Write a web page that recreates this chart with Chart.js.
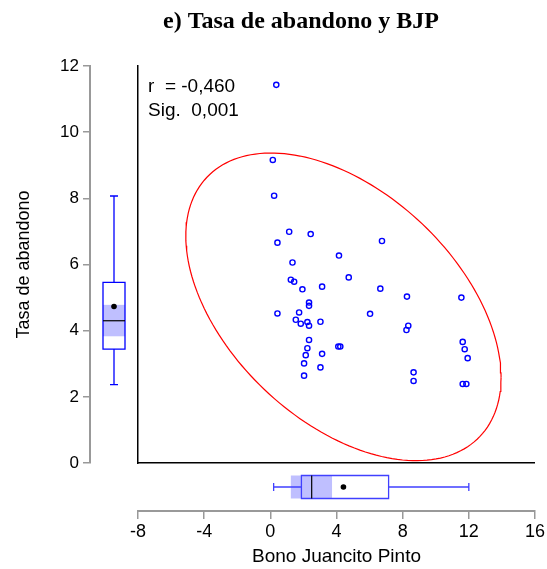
<!DOCTYPE html>
<html>
<head>
<meta charset="utf-8">
<script src="https://cdn.jsdelivr.net/npm/chart.js@4.4.0/dist/chart.umd.min.js"></script>
<style>
  body { margin: 0; background: #fff; }
</style>
</head>
<body>
<canvas id="scatter-chart" width="547" height="569"></canvas>
<script>
// Bono Juancito Pinto (x) vs Tasa de abandono (y)
var bjp = [0.36, 0.15, 0.23, 1.14, 2.44, 0.43, 6.75, 4.15, 1.34, 4.74, 1.24, 1.44, 3.13, 1.94, 6.65,
           8.26, 11.55, 2.34, 2.34, 0.43, 1.74, 6.03, 1.54, 1.84, 2.24, 2.34, 3.03, 8.34, 8.23, 2.34,
           2.24, 3.13, 4.11, 4.23, 2.14, 2.04, 3.03, 2.04, 11.63, 11.75, 11.93, 8.66, 8.66, 11.63, 11.85];
var abandono = [11.43, 9.16, 8.08, 6.99, 6.92, 6.66, 6.71, 6.27, 6.06, 5.61, 5.54, 5.48, 5.33, 5.25, 5.27,
                5.03, 5.00, 4.85, 4.75, 4.52, 4.55, 4.51, 4.33, 4.21, 4.26, 4.15, 4.27, 4.15, 4.02, 3.72,
                3.47, 3.30, 3.52, 3.52, 3.26, 3.01, 2.89, 2.64, 3.66, 3.44, 3.17, 2.74, 2.48, 2.39, 2.39];

// boxplots: min, q1, median, q3, max, media, ic inf, ic sup
var boxBjp = [0.2, 1.88, 2.5, 7.15, 12.0, 4.42, 1.24, 3.73];
var boxAbandono = [2.37, 3.44, 4.30, 5.46, 8.07, 4.73, 3.83, 4.78];

// elipse: centro x, centro y, desv x, desv y, r
var ellipse = [4.42, 4.72, 9.53, 4.65, -0.46];

var xTicks = [-8, -4, 0, 4, 8, 12, 16];
var yTicks = [0, 2, 4, 6, 8, 10, 12];
var stats = ["r  = -0,460", "Sig.  0,001"];

var ellipsePts = [];
for (let i = 0; i <= 360; i += 2) {
  let t = i * Math.PI / 180;
  let r = ellipse[4];
  ellipsePts.push({
    x: ellipse[0] + ellipse[2] * Math.cos(t),
    y: ellipse[1] + ellipse[3] * (r * Math.cos(t) + Math.sqrt(1 - r * r) * Math.sin(t))
  });
}

var points = bjp.map((v, i) => ({x: v, y: abandono[i]}));

function drawBox(ctx, b, scale, vertical, c, half, lineColor) {
  let p = b.map(v => scale.getPixelForValue(v));
  ctx.save();
  // banda del intervalo de confianza
  ctx.fillStyle = "rgba(0,0,255,0.25)";
  if (vertical) ctx.fillRect(c - half, p[7], half * 2, p[6] - p[7]);
  else ctx.fillRect(p[6], c - half, p[7] - p[6], half * 2);

  ctx.strokeStyle = lineColor;
  ctx.lineWidth = 1.3;
  ctx.beginPath();
  if (vertical) {
    ctx.rect(c - half, p[3], half * 2, p[1] - p[3]);
    ctx.moveTo(c, p[1]); ctx.lineTo(c, p[0]);
    ctx.moveTo(c, p[3]); ctx.lineTo(c, p[4]);
    ctx.moveTo(c - 4, p[0]); ctx.lineTo(c + 4, p[0]);
    ctx.moveTo(c - 4, p[4]); ctx.lineTo(c + 4, p[4]);
  } else {
    ctx.rect(p[1], c - half, p[3] - p[1], half * 2);
    ctx.moveTo(p[1], c); ctx.lineTo(p[0], c);
    ctx.moveTo(p[3], c); ctx.lineTo(p[4], c);
    ctx.moveTo(p[0], c - 4); ctx.lineTo(p[0], c + 4);
    ctx.moveTo(p[4], c - 4); ctx.lineTo(p[4], c + 4);
  }
  ctx.stroke();

  ctx.strokeStyle = "#000";
  ctx.lineWidth = 1.2;
  ctx.beginPath();
  if (vertical) { ctx.moveTo(c - half, p[2]); ctx.lineTo(c + half, p[2]); }
  else { ctx.moveTo(p[2], c - half); ctx.lineTo(p[2], c + half); }
  ctx.stroke();

  ctx.fillStyle = "#000";
  ctx.beginPath();
  if (vertical) ctx.arc(c, p[5], 2.8, 0, Math.PI * 2);
  else ctx.arc(p[5], c, 2.8, 0, Math.PI * 2);
  ctx.fill();
  ctx.restore();
}

var extras = {
  id: "extras",
  afterDatasetsDraw(chart) {
    const ctx = chart.ctx;
    const s = chart.scales;
    const area = chart.chartArea;

    drawBox(ctx, boxAbandono, s.y, true, (s.ys.left + s.ys.right) / 2, 11, "#0000ff");
    drawBox(ctx, boxBjp, s.x, false, (s.xs.top + s.xs.bottom) / 2, 11.5, "#4040ff");

    ctx.save();
    ctx.fillStyle = "#000";
    ctx.textBaseline = "middle";
    ctx.font = "19px 'Liberation Sans', Arial, sans-serif";
    ctx.fillText(stats[0], area.left + 10, area.top + 21);
    ctx.fillText(stats[1], area.left + 10, area.top + 45);

    ctx.font = "bold 24px 'Liberation Serif', 'Times New Roman', serif";
    ctx.textAlign = "center";
    ctx.fillText("e) Tasa de abandono y BJP", 301, 22);
    ctx.restore();
  }
};

new Chart(document.getElementById("scatter-chart"), {
  type: "scatter",
  data: {
    datasets: [
      {
        label: "Tasa de abandono",
        data: points,
        pointStyle: "circle",
        pointRadius: 2.6,
        pointBorderWidth: 1.4,
        borderColor: "#0000ff",
        backgroundColor: "rgba(0,0,0,0)",
        xAxisID: "x",
        yAxisID: "y"
      },
      {
        label: "elipse",
        data: ellipsePts,
        showLine: true,
        pointRadius: 0,
        borderColor: "#ff0000",
        borderWidth: 1.2,
        fill: false,
        xAxisID: "x",
        yAxisID: "y"
      }
    ]
  },
  options: {
    responsive: false,
    animation: false,
    layout: { padding: { top: 66, left: 10, right: 11, bottom: 0 } },
    plugins: {
      legend: { display: false },
      tooltip: { enabled: false },
      title: { display: false }
    },
    scales: {
      x: {
        type: "linear",
        position: "bottom",
        weight: 10,
        min: -8,
        max: 16,
        afterBuildTicks: (sc) => { sc.ticks = xTicks.map(v => ({value: v})); },
        afterFit: (sc) => { sc.height = 58; },
        grid: { display: true, drawOnChartArea: false, drawTicks: true, tickLength: 8, color: "#999", lineWidth: 1.5 },
        border: { display: true, color: "#999", width: 2 },
        ticks: { color: "#000", padding: 2, font: { size: 18, family: "'Liberation Sans', Arial, sans-serif" } },
        title: { display: true, text: "Bono Juancito Pinto", color: "#000", padding: { top: 0, bottom: 1 },
                 font: { size: 19, family: "'Liberation Sans', Arial, sans-serif" } }
      },
      xs: {
        type: "linear",
        position: "bottom",
        weight: 0,
        afterFit: (sc) => { sc.height = 48; },
        grid: { display: false },
        border: { display: true, color: "#000", width: 1.5 },
        ticks: { display: false }
      },
      y: {
        type: "linear",
        position: "left",
        weight: 10,
        min: 0,
        max: 12,
        afterBuildTicks: (sc) => { sc.ticks = yTicks.map(v => ({value: v})); },
        afterFit: (sc) => { sc.width = 80; },
        grid: { display: true, drawOnChartArea: false, drawTicks: true, tickLength: 7, color: "#999", lineWidth: 1.5 },
        border: { display: true, color: "#999", width: 2 },
        ticks: { color: "#000", padding: 4, font: { size: 17, family: "'Liberation Sans', Arial, sans-serif" } },
        title: { display: true, text: "Tasa de abandono", color: "#000", padding: { top: 3, bottom: 0 },
                 font: { size: 18, family: "'Liberation Sans', Arial, sans-serif" } }
      },
      ys: {
        type: "linear",
        position: "left",
        weight: 0,
        afterFit: (sc) => { sc.width = 48; },
        grid: { display: false },
        border: { display: true, color: "#000", width: 1.5 },
        ticks: { display: false }
      }
    }
  },
  plugins: [extras]
});
</script>
</body>
</html>
